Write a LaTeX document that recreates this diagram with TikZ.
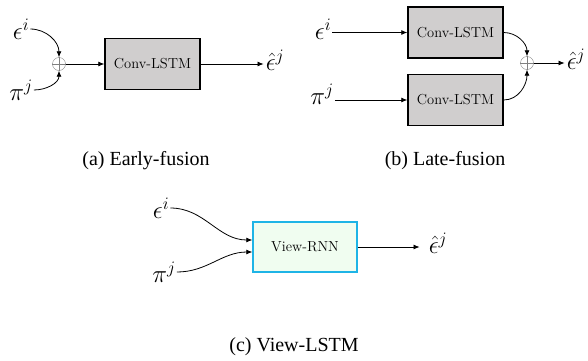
\RequirePackage{fix-cm}
\documentclass[tikz,border=0pt]{standalone}
\usepackage{fontspec}
\newfontfamily\capfont{Liberation Serif}
\usetikzlibrary{arrows.meta}
\definecolor{lstmgray}{RGB}{208,206,206}
\definecolor{viewblue}{RGB}{30,180,230}
\definecolor{viewgreen}{RGB}{240,253,240}

\begin{document}
\begin{tikzpicture}[
  x=1pt, y=-1pt,
  lstm/.style={draw=black, line width=1.4pt, fill=lstmgray, minimum width=95pt,
    minimum height=51pt, inner sep=0pt, font=\fontsize{14.5}{17}\selectfont},
  rnn/.style={lstm, draw=viewblue, fill=viewgreen, minimum width=104pt, minimum height=50pt},
  plus/.style={circle, draw=gray, thin, minimum size=13pt, inner sep=0pt},
  lbl/.style={inner sep=1pt, font=\fontsize{25}{30}\selectfont},
  arr/.style={line width=0.8pt, -{Latex[length=6pt,width=5pt]}},
  subcap/.style={font=\capfont\fontsize{20}{24}\selectfont}
]
\useasboundingbox (0,0) rectangle (588,360);

% (a) early fusion
\node [lbl] (epsA) at (21,29) {$\epsilon^i$};
\node [lbl] (piA) at (21,90) {$\pi^j$};
\node [plus] (plusA) at (59,64) {};
\draw [gray, thin] (plusA.north) -- (plusA.south) (plusA.west) -- (plusA.east);
\node [lstm] (boxA) at (152.5,64) {Conv-LSTM};
\node [lbl] (outA) at (275,60) {$\hat{\epsilon}^j$};
\draw [arr] (epsA.east) to [out=0, in=90] (plusA.north);
\draw [arr] (piA.east) to [out=0, in=-90] (plusA.south);
\draw [arr] (plusA) -- (boxA);
\draw [arr, shorten >=1pt] (boxA) -- (boxA.east -| outA.west);
\node [subcap] (capA) at (146,161) {(a) Early-fusion};

% (b) late fusion
\node [lbl] (epsB) at (323,29) {$\epsilon^i$};
\node [lbl] (piB) at (322,94) {$\pi^j$};
\node [lstm] (boxB1) at (455.5,32.5) {Conv-LSTM};
\node [lstm] (boxB2) at (455.5,100) {Conv-LSTM};
\node [plus] (plusB) at (527,63) {};
\draw [gray, thin] (plusB.north) -- (plusB.south) (plusB.west) -- (plusB.east);
\node [lbl] (outB) at (576,59) {$\hat{\epsilon}^j$};
\draw [arr] (epsB.east |- boxB1) -- (boxB1);
\draw [arr] (piB.east |- boxB2) -- (boxB2);
\draw [arr] (boxB1.east) to [out=0, in=90] (plusB.north);
\draw [arr] (boxB2.east) to [out=0, in=-90] (plusB.south);
\draw [arr, shorten >=1pt] (plusB) -- (plusB -| outB.west);
\node [subcap] (capB) at (445,161) {(b) Late-fusion};

% (c) view lstm
\node [lbl] (epsC) at (161,208) {$\epsilon^i$};
\node [lbl] (piC) at (164,272) {$\pi^j$};
\node [rnn] (boxC) at (305,247) {View-RNN};
\node [lbl] (outC) at (438,243) {$\hat{\epsilon}^j$};
\draw [arr] (epsC.east) to [out=0, in=180] ([yshift=7pt]boxC.west);
\draw [arr] (piC.east) to [out=0, in=180] ([yshift=-5pt]boxC.west);
\draw [arr, shorten >=8pt] (boxC) -- (boxC.east -| outC.west);
\node [subcap] (capC) at (294,347) {(c) View-LSTM};
\end{tikzpicture}
\end{document}
